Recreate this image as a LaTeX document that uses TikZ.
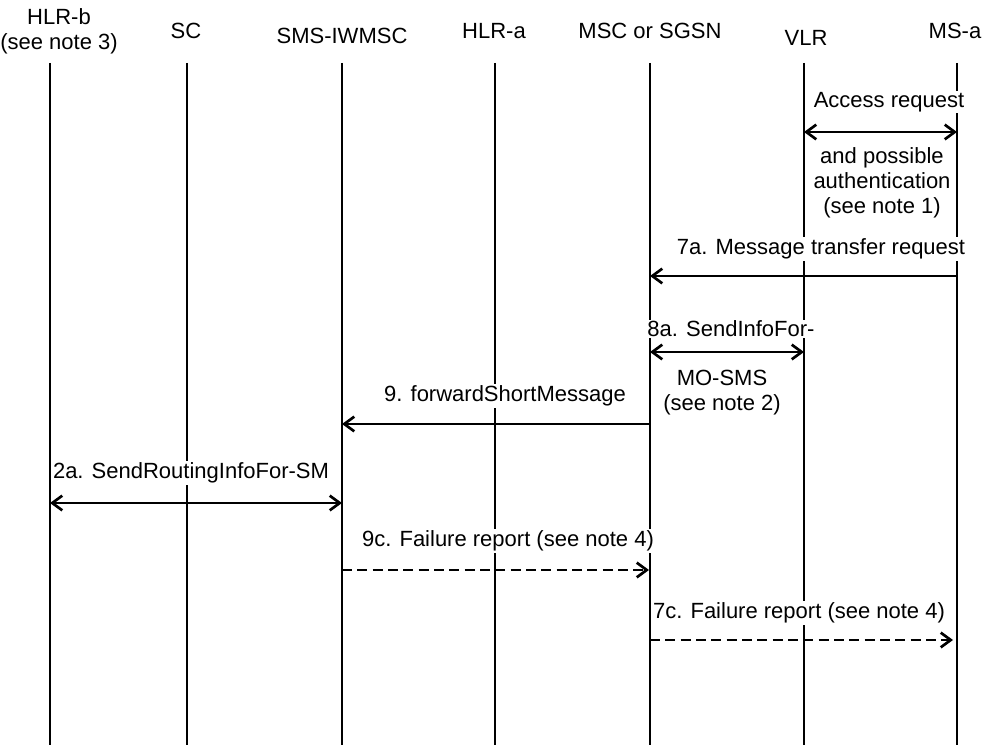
\documentclass[tikz,border=0pt]{standalone}
\usepackage{fontspec}
\setmainfont{Liberation Sans}
\usetikzlibrary{arrows.meta}
\begin{document}
\begin{tikzpicture}[x=0.75pt,y=-0.75pt,
  life/.style={line width=1.5pt},
  tip/.tip={Straight Barb[length=7.5pt,width=11pt,line width=2pt]},
  msg/.style={line width=2pt,-tip},
  bmsg/.style={line width=2pt,tip-tip},
  dmsg/.style={line width=2pt,-tip,dash pattern=on 7.5pt off 4pt},
  lbl/.style={fill=white,inner sep=1pt,font=\fontsize{16.5}{18.75}\selectfont,align=center},
  hdr/.style={inner sep=0pt,font=\fontsize{16.5}{18.75}\selectfont,align=center}]
\useasboundingbox (0,0) rectangle (986,745);
% headers
\node[hdr] (hHLRb) at (59,31) {HLR-b\\(see note 3)};
\node[hdr] (hSC) at (186,31) {SC};
\node[hdr] (hIW) at (342,36) {SMS-IWMSC};
\node[hdr] (hHLRa) at (494,31) {HLR-a};
\node[hdr] (hMSC) at (650,31) {MSC or SGSN};
\node[hdr] (hVLR) at (806,38) {VLR};
\node[hdr] (hMS) at (955,31) {MS-a};
% lifelines
\foreach \n/\x in {HLRb/50,SC/187,IW/342,HLRa/495,MSC/650,VLR/804,MS/957}{
  \coordinate (t\n) at (\x,63);
  \coordinate (b\n) at (\x,745);
  \draw[life] (t\n) -- (b\n);
}
% message endpoints
\coordinate (m1a) at (804,132); \coordinate (m1b) at (957,132);
\coordinate (m2a) at (957,276); \coordinate (m2b) at (650,276);
\coordinate (m3a) at (650,352); \coordinate (m3b) at (804,352);
\coordinate (m4a) at (650,424); \coordinate (m4b) at (342,424);
\coordinate (m5a) at (50,503);  \coordinate (m5b) at (342,503);
\coordinate (m6a) at (342,570); \coordinate (m6b) at (649,570);
\coordinate (m7a) at (650,640); \coordinate (m7b) at (953,640);
% labels
\node[lbl] (l1) at (889,102) {Access request};
\node[lbl,fill=none] (l1b) at (882,183) {and possible\\authentication\\(see note 1)};
\node[lbl] (l2) at (821,249) {7a. Message transfer request};
\node[lbl] (l3) at (731,329) {8a. SendInfoFor-};
\node[lbl,fill=none] (l3b) at (722,393) {MO-SMS\\(see note 2)};
\node[lbl] (l4) at (505,396) {9. forwardShortMessage};
\node[lbl] (l5) at (191,473) {2a. SendRoutingInfoFor-SM};
\node[lbl] (l6) at (508,541) {9c. Failure report (see note 4)};
\node[lbl] (l7) at (799,613) {7c. Failure report (see note 4)};
% messages
\draw[bmsg] (m1a) -- (m1b);
\draw[msg] (m2a) -- (m2b);
\draw[bmsg] (m3a) -- (m3b);
\draw[msg] (m4a) -- (m4b);
\draw[bmsg] (m5a) -- (m5b);
\draw[dmsg] (m6a) -- (m6b);
\draw[dmsg] (m7a) -- (m7b);
\end{tikzpicture}
\end{document}
